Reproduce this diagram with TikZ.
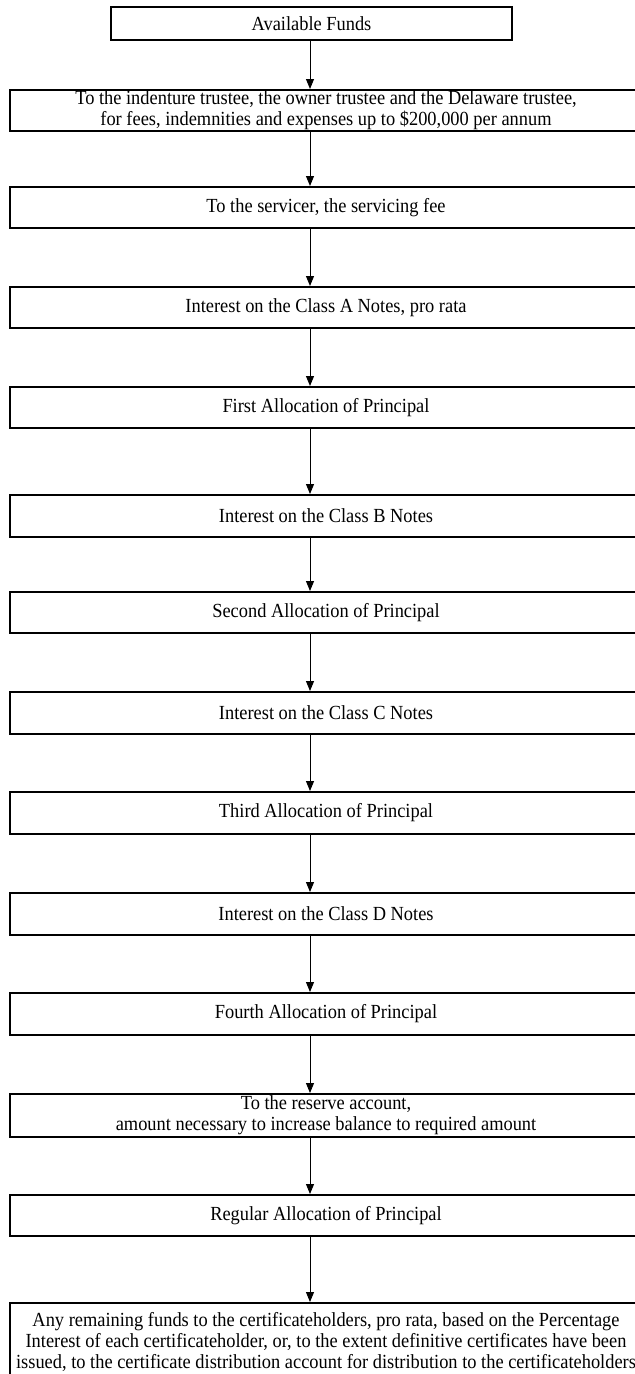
\documentclass[tikz,border=0pt]{standalone}
\usepackage{fontspec}
\setmainfont[FakeStretch=0.92]{Liberation Serif}
\usetikzlibrary{arrows.meta}

\tikzset{every picture/.style={line width=0.75pt}}
\tikzset{
  stagebox/.style={draw, line width=1.5pt, minimum width=474pt, inner sep=0pt, align=center,
    font=\fontsize{15pt}{16pt}\selectfont},
  fundbox/.style={draw, line width=0.9pt, minimum width=300.75pt, minimum height=24.75pt, inner sep=0pt,
    font=\fontsize{15pt}{16pt}\selectfont},
  flowarrow/.style={-{Triangle[width=6pt,length=7.5pt]}, line width=0.75pt}
}

\begin{document}
\begin{tikzpicture}[x=0.75pt,y=0.75pt,yscale=-1,xscale=1]
    \useasboundingbox (0,0) rectangle (635,1374);
    %column of the arrows
    \coordinate (col) at (310,0);

    % Top box
    \node [fundbox] (fund) at (311.5,23.5) {Available Funds};

    % Stage boxes
    \node [stagebox, minimum height=30.75pt] (trustees) at (326,110.5) {To the indenture trustee, the owner trustee and the Delaware trustee,\\for fees, indemnities and expenses up to \$200,000 per annum};
    \node [stagebox, minimum height=30.75pt] (servicer) at (326,207.5) {To the servicer, the servicing fee};
    \node [stagebox, minimum height=30.75pt] (intA) at (326,307.5) {Interest on the Class A Notes, pro rata};
    \node [stagebox, minimum height=30.75pt] (firstP) at (326,407.5) {First Allocation of Principal};
    \node [stagebox, minimum height=31.5pt] (intB) at (326,516) {Interest on the Class B Notes};
    \node [stagebox, minimum height=30.75pt] (secondP) at (326,612.5) {Second Allocation of Principal};
    \node [stagebox, minimum height=31.5pt] (intC) at (326,713) {Interest on the Class C Notes};
    \node [stagebox, minimum height=31.5pt] (thirdP) at (326,813) {Third Allocation of Principal};
    \node [stagebox, minimum height=31.5pt] (intD) at (326,914) {Interest on the Class D Notes};
    \node [stagebox, minimum height=31.5pt] (fourthP) at (326,1014) {Fourth Allocation of Principal};
    \node [stagebox, minimum height=32.25pt] (reserve) at (326,1115.5) {To the reserve account,\\amount necessary to increase balance to required amount};
    \node [stagebox, minimum height=30.75pt] (regularP) at (326,1215.5) {Regular Allocation of Principal};
    \node [stagebox, minimum height=58.5pt] (remain) at (326,1342) {Any remaining funds to the certificateholders, pro rata, based on the Percentage\\Interest of each certificateholder, or, to the extent definitive certificates have been\\issued, to the certificate distribution account for distribution to the certificateholders};

    % Arrows
    \foreach \a/\b in {fund/trustees, trustees/servicer, servicer/intA, intA/firstP, firstP/intB,
      intB/secondP, secondP/intC, intC/thirdP, thirdP/intD, intD/fourthP, fourthP/reserve,
      reserve/regularP, regularP/remain}
      \draw [flowarrow] (\a.south -| col) -- (\b.north -| col);

\end{tikzpicture}
\end{document}
